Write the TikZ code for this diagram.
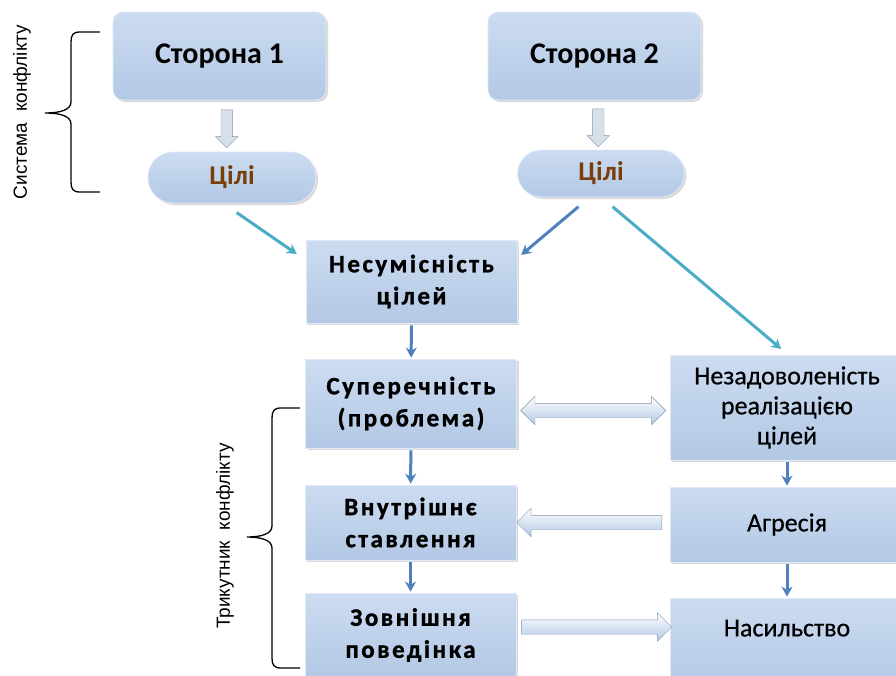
\documentclass[tikz,border=0pt]{standalone}
\usepackage{fontspec}
\setmainfont{Carlito}
\newfontfamily\pidpys{Liberation Sans}
\newfontfamily\rozr[LetterSpace=10, BoldFeatures={FakeBold=1.2}]{Carlito}
\newfontfamily\pravfont[FakeBold=0.6]{Carlito}
\usetikzlibrary{arrows.meta, positioning, shapes.arrows, shadows}
\definecolor{bloktop}{HTML}{CCDCF1}
\definecolor{blokniz}{HTML}{B3C8E5}
\definecolor{synia}{HTML}{4F81BD}
\definecolor{blakytna}{HTML}{4BACC6}
\definecolor{kontur}{HTML}{8497B0}
\definecolor{cili}{HTML}{7A3E0A}

\begin{document}
\begin{tikzpicture}[
    x = 1pt, y = -1pt,
    blok/.style = {rectangle, top color=bloktop, bottom color=blokniz,
      draw=bloktop!60!white, line width=0.8pt, align=center, inner sep=0pt,
      drop shadow={opacity=0.3, shadow xshift=2pt, shadow yshift=-2pt}},
    livyi/.style = {blok, minimum width=211pt,
      font=\fontsize{25}{32}\selectfont\rozr\bfseries},
    pravyi/.style = {blok, minimum width=234pt,
      font=\fontsize{26}{30}\selectfont\pravfont},
    storona/.style = {blok, rounded corners=10pt, minimum width=213pt,
      minimum height=88pt, font=\fontsize{30}{34}\selectfont\bfseries},
    meta/.style = {blok, minimum width=167pt, text=cili,
      font=\fontsize{27}{30}\selectfont\bfseries},
    pil/.style = {synia, line width=3pt, -{Stealth[length=10pt, width=11pt]},
      shorten <=2pt, shorten >=1pt},
    cyanpil/.style = {pil, blakytna},
    vnyz/.style = {single arrow, shape border rotate=270, draw=kontur,
      fill=bloktop!80!gray!60!white, minimum height=38pt, inner xsep=5.5pt,
      inner ysep=0pt, text height=0pt, text depth=0pt, text width=0pt,
      single arrow head extend=5.5pt},
    tovsta/.style = {single arrow, draw=kontur, top color=white,
      bottom color=blokniz, minimum height=#1, inner xsep=0pt,
      inner ysep=7pt, text height=0pt, text depth=0pt,
      single arrow head extend=7pt},
    dvobic/.style = {double arrow, draw=kontur, top color=white,
      bottom color=blokniz, minimum height=#1, inner xsep=0pt,
      inner ysep=7pt, text height=0pt, text depth=0pt,
      double arrow head extend=7pt},
    duzhka/.style = {black, line width=1.3pt}
    ]
  \useasboundingbox (0,0) rectangle (896,675);
  \clip (0,0) rectangle (896,675);

  % storony i cili
  \node[storona] (st1) at (219.5,56) {Сторона 1};
  \node[storona] (st2) at (594.5,56) {Сторона 2};
  \node[meta, rounded corners=25pt, minimum width=168pt, minimum height=51pt]
    (cil1) at (232,177.5) {Цілі};
  \node[meta, rounded corners=24pt, minimum height=47pt]
    (cil2) at (601,173.5) {Цілі};

  % livyi stovpets
  \node[livyi, minimum height=83pt] (nes) at (411.5,281.5) {Несумісність\\цілей};
  \node[livyi, minimum height=89pt] (sup) at (411,403.5) {Суперечність\\(проблема)};
  \node[livyi, minimum height=75pt] (vnu) at (410.5,522.5) {Внутрішнє\\ставлення};
  \node[livyi, minimum height=84pt] (zov) at (410.5,635) {Зовнішня\\поведінка};

  % pravyi stovpets
  \node[pravyi, minimum height=105pt] (nez) at (787,407.5)
    {Незадоволеність\\реалізацією\\цілей};
  \node[pravyi, minimum height=75pt] (agr) at (787,524.5) {Агресія};
  \node[pravyi, minimum height=90pt] (nas) at (787,643) {Насильство\\~};

  % dugy
  \draw[duzhka] (100,32) -- (80,32) .. controls (73,32) and (71,35) .. (71,42)
    -- (71,102) .. controls (71,110) and (60,113) .. (45,113)
    .. controls (60,113) and (71,116) .. (71,124) -- (71,182)
    .. controls (71,189) and (73,192) .. (80,192) -- (100,192);
  \draw[duzhka] (300,408) -- (281,408) .. controls (274,408) and (272,411) .. (272,418)
    -- (272,526) .. controls (272,534) and (261,537) .. (247,537)
    .. controls (261,537) and (272,540) .. (272,548) -- (272,658)
    .. controls (272,665) and (274,668) .. (281,668) -- (300,668);
  \node[rotate=90, font=\pidpys\fontsize{19}{23}\selectfont] (sys) at (22,112)
    {Система\ \ конфлікту};
  \node[rotate=90, font=\pidpys\fontsize{19}{23}\selectfont] (tryk) at (225,536)
    {Трикутник\ \ конфлікту};

  % tovsti strilky
  \path (st1) -- node[vnyz] {} (cil1);
  \path (st2) -- node[vnyz] {} (cil2);
  \path (sup.east) -- node[dvobic=145pt, yshift=-7pt] {} (sup.east -| nez.west);
  \path (agr.west) -- node[tovsta=145pt, shape border rotate=180, yshift=2pt] {}
    (agr.west -| vnu.east);
  \path (zov.east) -- node[tovsta=150pt, yshift=8pt] {} (zov.east -| nas.west);

  \draw[cyanpil] ([shift={(3,8)}]cil1.south) -- ([shift={(-8,15)}]nes.north west);
  \draw[pil] ([shift={(-21,8)}]cil2.south) -- ([shift={(3,16)}]nes.north east);
  \draw[cyanpil] ([shift={(10,8)}]cil2.south) -- ([shift={(-5,-5)}]nez.north);
  \draw[pil]
  (nes) edge (sup)
  (sup) edge (vnu)
  (vnu) edge (zov)
  (nez) edge (agr)
  (agr) edge (nas);
\end{tikzpicture}
\end{document}
